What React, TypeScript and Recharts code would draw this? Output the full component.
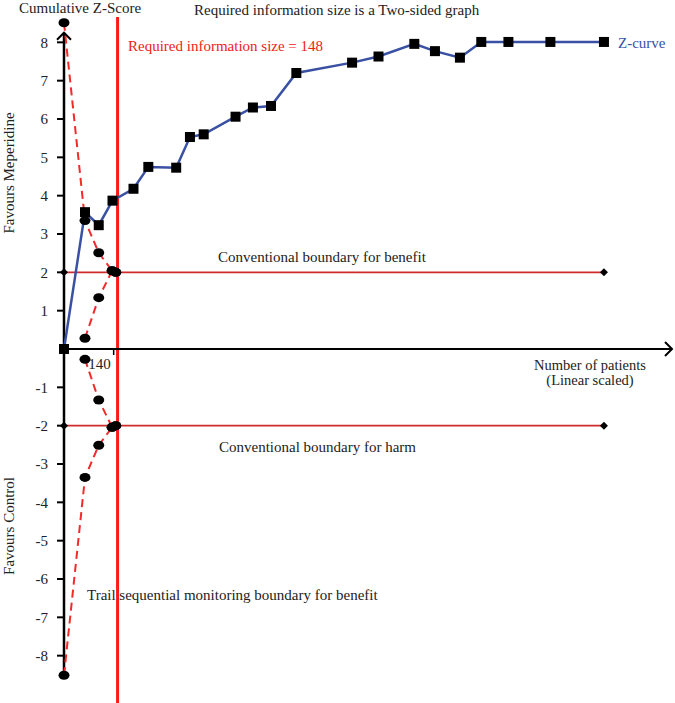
import React from "react";
import {
  ComposedChart,
  Line,
  XAxis,
  YAxis,
  ReferenceLine,
  ReferenceDot,
} from "recharts";

// cumulative Z-curve
const zPatients = [0, 58, 96, 134, 192, 233, 310, 348, 386, 474, 522, 572, 642, 796, 869, 968, 1025, 1094, 1153, 1228, 1344, 1492];
const zScores = [0, 3.57, 3.23, 3.87, 4.18, 4.75, 4.73, 5.53, 5.6, 6.06, 6.3, 6.34, 7.2, 7.47, 7.63, 7.96, 7.77, 7.6, 8.01, 8.01, 8.01, 8.01];

// trial sequential monitoring boundaries
const boundPatients = [0, 58, 96, 133, 143];
const upperOuter = [8.51, 3.35, 2.51, 2.04, 2.0];
const upperInner = [null, 0.28, 1.34, 2.04, 2.0];
const lowerOuter = [-8.51, -3.35, -2.51, -2.04, -2.0];
const lowerInner = [null, -0.27, -1.33, -2.04, -2.0];

// conventional boundaries
const convPatients = [0, 1492];
const convBenefit = [2, 2];
const convHarm = [-2, -2];

const requiredSize = 148;
const xTick = 140;
const yTicks = [-8, -7, -6, -5, -4, -3, -2, -1, 1, 2, 3, 4, 5, 6, 7, 8];

const toRows = (xs: number[], ys: (number | null)[]) =>
  xs.map((x, i) => ({ x, y: ys[i] })).filter((r) => r.y !== null);

const FONT = "'Liberation Serif', 'Times New Roman', serif";
const BLUE = "#3a51a3";
const RED = "#f22a2a";

const Square = (p: any) =>
  p.cx == null ? null : (
    <rect key={`s${p.index}`} x={p.cx - 5} y={p.cy - 5} width={10} height={10} fill="#000" />
  );

const Ellipse = (p: any) =>
  p.cx == null ? null : (
    <ellipse key={`e${p.index}`} cx={p.cx} cy={p.cy} rx={5.5} ry={4.5} fill="#000" />
  );

const Diamond = (p: any) =>
  p.cx == null ? null : (
    <path
      key={`d${p.index}`}
      d={`M${p.cx - 4},${p.cy} L${p.cx},${p.cy - 4} L${p.cx + 4},${p.cy} L${p.cx},${p.cy + 4} Z`}
      fill="#000"
    />
  );

export default function App() {
  const W = 675;
  const H = 703;
  return (
    <div style={{ position: "absolute", left: 0, top: 0, width: W, height: H, background: "#fff" }}>
      <ComposedChart width={W} height={H} margin={{ top: 4, right: 3, bottom: 9, left: 0 }}>
        <XAxis type="number" dataKey="x" domain={[0, 1680]} hide />
        <YAxis
          type="number"
          domain={[-9, 9]}
          ticks={yTicks}
          width={64}
          axisLine={false}
          tickSize={7}
          tickMargin={9}
          tickLine={{ stroke: "#000", strokeWidth: 2 }}
          tick={{ fill: "#222", fontSize: 15, fontFamily: FONT }}
        />
        {/* required information size */}
        <ReferenceLine
          segment={[{ x: requiredSize, y: 8.66 }, { x: requiredSize, y: -9.3 }]}
          stroke="#ff1a1a"
          strokeWidth={3}
          ifOverflow="visible"
        />
        {/* axes */}
        <ReferenceLine
          segment={[{ x: 0, y: 8.25 }, { x: 0, y: -8.43 }]}
          stroke="#000"
          strokeWidth={2.5}
          ifOverflow="visible"
        />
        <ReferenceLine
          segment={[{ x: 0, y: 0 }, { x: 1680, y: 0 }]}
          stroke="#000"
          strokeWidth={2}
          ifOverflow="visible"
        />
        <ReferenceDot
          x={0}
          y={8.25}
          ifOverflow="visible"
          shape={(p: any) => (
            <path d={`M${p.cx - 7},${p.cy + 7} L${p.cx},${p.cy} L${p.cx + 7},${p.cy + 7}`} stroke="#000" strokeWidth={2} fill="none" />
          )}
        />
        <ReferenceDot
          x={1680}
          y={0}
          ifOverflow="visible"
          shape={(p: any) => (
            <path d={`M${p.cx - 7},${p.cy - 7} L${p.cx},${p.cy} L${p.cx - 7},${p.cy + 7}`} stroke="#000" strokeWidth={2} fill="none" />
          )}
        />
        <ReferenceDot
          x={xTick}
          y={0}
          ifOverflow="visible"
          shape={(p: any) => (
            <g>
              <line x1={p.cx - 1} y1={p.cy} x2={p.cx - 1} y2={p.cy + 6} stroke="#000" strokeWidth={1.5} />
              <text x={p.cx - 4} y={p.cy + 20} textAnchor="end" fontSize={15} fontFamily={FONT} fill="#222">
                {xTick}
              </text>
            </g>
          )}
        />
        {/* conventional boundaries */}
        <Line data={toRows(convPatients, convBenefit)} dataKey="y" stroke="#d02b2b" strokeWidth={1.8} dot={Diamond} isAnimationActive={false} />
        <Line data={toRows(convPatients, convHarm)} dataKey="y" stroke="#d02b2b" strokeWidth={1.8} dot={Diamond} isAnimationActive={false} />
        {/* TSM boundaries */}
        <Line data={toRows(boundPatients, upperOuter)} dataKey="y" stroke={RED} strokeWidth={2} strokeDasharray="8 5" dot={Ellipse} isAnimationActive={false} />
        <Line data={toRows(boundPatients, upperInner)} dataKey="y" stroke={RED} strokeWidth={2} strokeDasharray="8 5" dot={Ellipse} isAnimationActive={false} />
        <Line data={toRows(boundPatients, lowerOuter)} dataKey="y" stroke={RED} strokeWidth={2} strokeDasharray="8 5" dot={Ellipse} isAnimationActive={false} />
        <Line data={toRows(boundPatients, lowerInner)} dataKey="y" stroke={RED} strokeWidth={2} strokeDasharray="8 5" dot={Ellipse} isAnimationActive={false} />
        {/* Z-curve */}
        <Line data={toRows(zPatients, zScores)} dataKey="y" stroke={BLUE} strokeWidth={2.5} dot={Square} isAnimationActive={false} />
      </ComposedChart>
      <svg width={W} height={H} style={{ position: "absolute", left: 0, top: 0, pointerEvents: "none" }}>
        <g fontFamily={FONT} fontSize={15} fill="#222">
          <text x={19} y={13}>Cumulative Z-Score</text>
          <text x={194} y={15}>Required information size is a Two-sided graph</text>
          <text x={128} y={51} fill="#f02020">Required information size = 148</text>
          <text x={618} y={48} fill={BLUE}>Z-curve</text>
          <text x={218} y={262}>Conventional boundary for benefit</text>
          <text x={219} y={452}>Conventional boundary for harm</text>
          <text x={87} y={600}>Trail sequential monitoring boundary for benefit</text>
          <text x={14} y={173} textAnchor="middle" transform="rotate(-90 14 173)">Favours Meperidine</text>
          <text x={14} y={526} textAnchor="middle" transform="rotate(-90 14 526)">Favours Control</text>
          <g fontSize={14.5} textAnchor="middle">
            <text x={590} y={370}>Number of patients</text>
            <text x={590} y={385}>(Linear scaled)</text>
          </g>
        </g>
      </svg>
    </div>
  );
}
